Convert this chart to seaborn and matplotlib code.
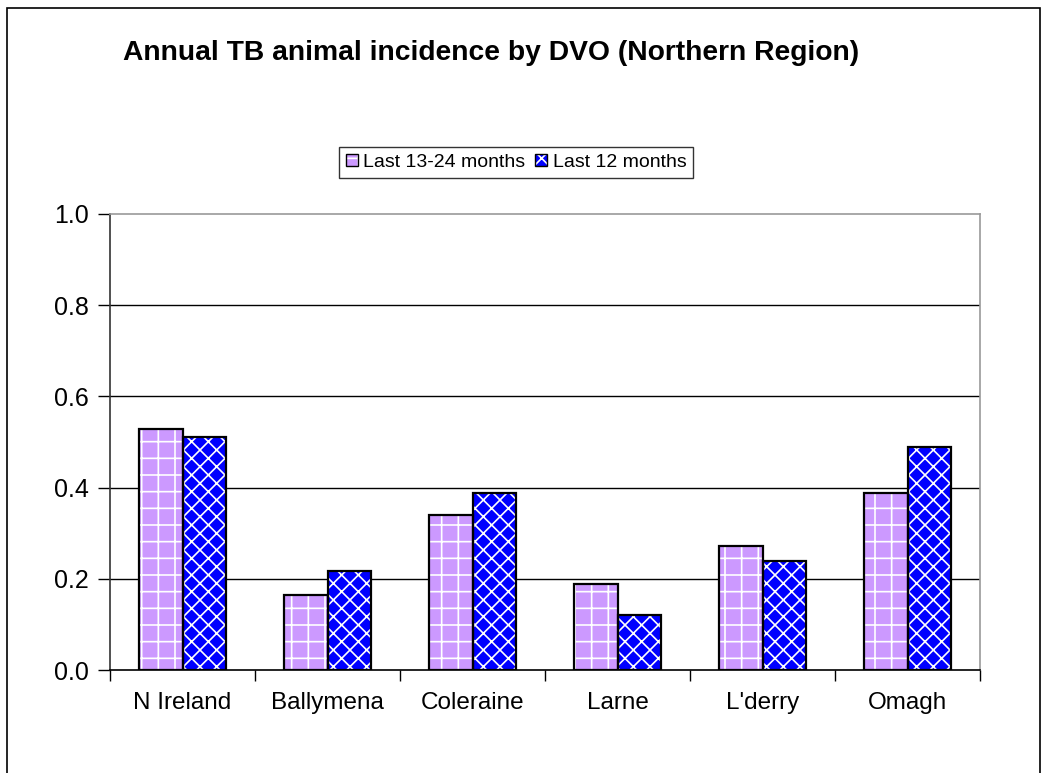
import matplotlib
matplotlib.use("Agg")
import matplotlib.pyplot as plt
import seaborn as sns
import pandas as pd
from matplotlib.patches import Rectangle, Patch
from matplotlib.ticker import FixedLocator
from matplotlib.legend_handler import HandlerTuple

categories = ["N Ireland", "Ballymena", "Coleraine", "Larne", "L'derry", "Omagh"]
series_names = ["Last 13-24 months", "Last 12 months"]
last_13_24 = [0.528, 0.164, 0.339, 0.188, 0.272, 0.389]
last_12 = [0.512, 0.217, 0.389, 0.121, 0.240, 0.488]
y_ticks = [0.0, 0.2, 0.4, 0.6, 0.8, 1.0]
title = "Annual TB animal incidence by DVO (Northern Region)"

colors = ["#CC99FF", "#0000FF"]
hatches = ["+", "xx"]

sns.set_theme(style="white")
plt.rcParams["font.family"] = ["Liberation Sans", "DejaVu Sans"]
plt.rcParams["hatch.linewidth"] = 1.2
for k in ["text.color", "axes.labelcolor", "xtick.color", "ytick.color"]:
    plt.rcParams[k] = "black"

df = pd.DataFrame({
    "DVO": categories * 2,
    "Series": [series_names[0]] * len(categories) + [series_names[1]] * len(categories),
    "Value": last_13_24 + last_12,
})

fig = plt.figure(figsize=(10.43, 7.73), dpi=100)
ax = fig.add_axes([0.1055, 0.1332, 0.8341, 0.59])

sns.barplot(data=df, x="DVO", y="Value", hue="Series", palette=colors, saturation=1,
            width=0.6, ax=ax, legend=False, errorbar=None)

# apply hatches and outlines
for i, container in enumerate(ax.containers):
    for p in container:
        p.set_hatch(hatches[i])
        p.set_edgecolor("white")
        p.set_linewidth(0)
        ax.add_patch(Rectangle(p.get_xy(), p.get_width(), p.get_height(),
                               fill=False, edgecolor="black", linewidth=1.6, zorder=3))

ax.set_ylim(0, 1.0)
ax.set_xlim(-0.5, len(categories) - 0.5)
ax.set_yticks(y_ticks)
ax.set_yticklabels([f"{t:.1f}" for t in y_ticks], fontsize=18)
ax.set_xticks(range(len(categories)))
ax.set_xticklabels(categories, fontsize=17.5)
ax.xaxis.set_minor_locator(FixedLocator([i - 0.5 for i in range(len(categories) + 1)]))
ax.tick_params(axis="x", which="major", length=0, pad=16)
ax.tick_params(axis="x", which="minor", length=8, width=1, color="black", direction="out", bottom=True)
ax.tick_params(axis="y", length=9, width=1, color="black", direction="out", left=True, pad=6)
ax.set_xlabel("")
ax.set_ylabel("")

for t in y_ticks[1:-1]:
    ax.axhline(t, color="black", linewidth=1, zorder=0.5)

ax.spines["left"].set_color("#333333")
ax.spines["bottom"].set_color("black")
ax.spines["top"].set_color("#999999")
ax.spines["right"].set_color("#999999")
for s in ax.spines.values():
    s.set_linewidth(1.2)

fig.text(0.471, 0.932, title, ha="center", va="center", fontsize=20.3, fontweight="bold")

# legend
handles = [(Patch(facecolor=colors[i], edgecolor="white", linewidth=0, hatch=hatches[i]),
            Patch(fill=False, edgecolor="black", linewidth=1))
           for i in range(2)]
leg = fig.legend(handles=handles, labels=series_names, loc="center",
                 bbox_to_anchor=(0.495, 0.79), ncol=2,
                 handler_map={tuple: HandlerTuple(ndivide=1, pad=0)},
                 fontsize=14, frameon=True, fancybox=False, handlelength=0.6, handleheight=0.6,
                 handletextpad=0.3, columnspacing=0.5, borderpad=0.35, borderaxespad=0,
                 edgecolor="black")
leg.get_frame().set_linewidth(1)

# outer border
fig.add_artist(Rectangle((0.007, -0.01), 0.99, 1.0, transform=fig.transFigure,
                         fill=False, edgecolor="black", linewidth=1.2))

fig.savefig("out.png", dpi=100)
